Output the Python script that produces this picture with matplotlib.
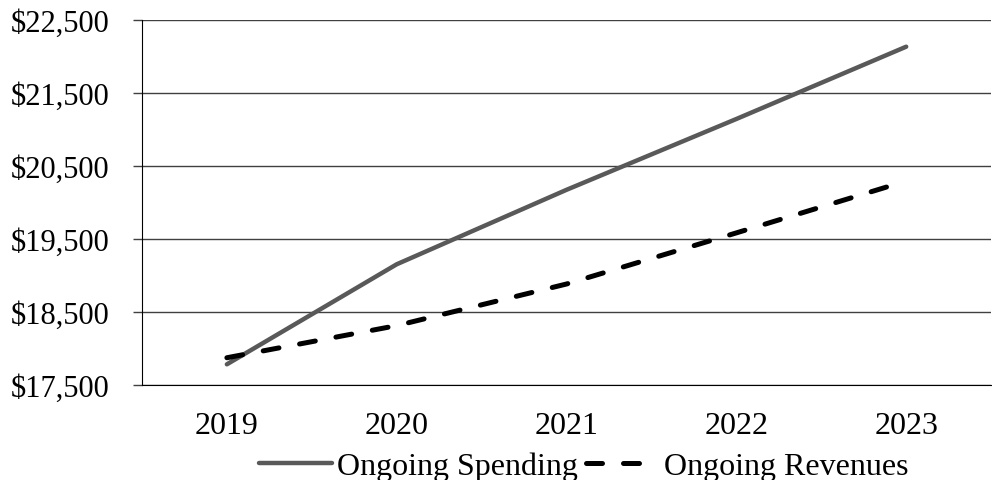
import matplotlib.pyplot as plt
from matplotlib.ticker import FuncFormatter

# Ongoing spending vs. ongoing revenues (millions of dollars)
years = ['2019', '2020', '2021', '2022', '2023']
spending = [17780, 19150, 20170, 21140, 22130]
revenues = [17870, 18310, 18880, 19580, 20290]

plt.rcParams['font.family'] = ['Liberation Serif', 'DejaVu Serif']

fig = plt.figure(figsize=(9.92, 4.81), dpi=100)
ax = fig.add_axes([0.1431, 0.198, 0.856, 0.759])

x = range(len(years))
ax.plot(x, spending, color='#595959', linewidth=3.2, solid_capstyle='round',
        label='Ongoing Spending', zorder=3)
ax.plot(x, revenues, color='black', linewidth=3.6, dashes=(3.2, 4.2),
        dash_capstyle='round', label='Ongoing Revenues', zorder=3)

ax.set_xlim(-0.5, len(years) - 0.5)
ax.set_ylim(17500, 22500)
ax.set_yticks(range(17500, 22501, 1000))
ax.yaxis.set_major_formatter(FuncFormatter(lambda v, pos: f'${v:,.0f}'))
ax.set_xticks(list(x))
ax.set_xticklabels(years)

ax.grid(True, axis='y', color='#404040', linewidth=1.0)
ax.set_axisbelow(True)
for side in ('top', 'right'):
    ax.spines[side].set_visible(False)
ax.spines['left'].set_color('black')
ax.spines['bottom'].set_color('black')
ax.tick_params(axis='y', length=6.5, width=1.0, color='#404040', labelsize=22, pad=17)
ax.tick_params(axis='x', length=0, labelsize=23, pad=19)

ax.legend(loc='upper center', bbox_to_anchor=(0.52, -0.182), ncol=2, frameon=False,
          fontsize=23, handlelength=2.3, handletextpad=0.15, columnspacing=0.25,
          borderaxespad=0, borderpad=0)

fig.savefig('out.png', dpi=100)
